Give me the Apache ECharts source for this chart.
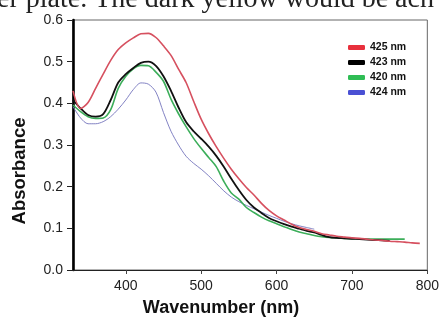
<!DOCTYPE html>
<html>
<head>
<meta charset="utf-8">
<script src="https://cdn.jsdelivr.net/npm/echarts@6/dist/echarts.min.js"></script>
<style>
html,body{margin:0;padding:0;background:#fff;}
#chart{width:442px;height:320px;}
</style>
</head>
<body>
<div id="chart"></div>
<script>
var wavelengths = [330,340,350,360,370,380,390,400,410,420,430,440,450,460,470,480,490,500,510,520,530,540,550,560,570,580,590,600,610,620,630,640,650,660,670,680,690,700,710,720,730,740,750,760,770,780,790];
var xTicks = [400,500,600,700,800];
var seriesNames = ['425 nm','423 nm','420 nm','424 nm'];
var red425 = [0.430,0.388,0.402,0.436,0.470,0.503,0.529,0.545,0.557,0.567,0.568,0.558,0.538,0.515,0.482,0.450,0.405,0.362,0.327,0.296,0.268,0.242,0.219,0.198,0.180,0.160,0.143,0.130,0.120,0.110,0.102,0.097,0.093,0.087,0.084,0.081,0.079,0.077,0.076,0.074,0.072,0.071,0.069,0.068,0.067,0.065,0.064];
var black423 = [0.408,0.388,0.372,0.368,0.374,0.408,0.450,0.470,0.485,0.497,0.500,0.490,0.465,0.430,0.390,0.355,0.333,0.315,0.296,0.274,0.248,0.219,0.192,0.168,0.150,0.137,0.125,0.117,0.110,0.104,0.099,0.094,0.090,0.084,0.079,0.077,0.076,0.075,0.074,0.073,0.072,0.071,0.070,null,null,null,null];
var green420 = [0.396,0.380,0.368,0.364,0.365,0.385,0.436,0.465,0.483,0.491,0.490,0.475,0.453,0.410,0.375,0.344,0.316,0.292,0.270,0.248,0.213,0.185,0.170,0.150,0.138,0.127,0.118,0.111,0.104,0.097,0.091,0.087,0.083,0.080,0.078,0.077,0.076,0.075,0.075,0.074,0.074,0.074,0.074,0.074,0.074,null,null];
var blue424 = [0.392,0.365,0.351,0.351,0.356,0.368,0.386,0.408,0.433,0.449,0.446,0.427,0.378,0.333,0.300,0.273,0.256,0.242,0.226,0.208,0.190,0.175,0.164,0.155,0.147,0.139,0.131,0.124,0.117,0.111,0.106,0.102,0.098,null,null,null,null,null,null,null,null,null,null,null,null,null,null];
var lineColors = ['#d6505f','#111111','#3cae5a','#7474bc'];
var legendColors = ['#e8303c','#000000','#2fbd55','#4a50d4'];
var lineWidths = [1.6,1.8,1.6,0.9];

function pairs(vals){
  return wavelengths.map(function(w,i){ return [w, vals[i]]; });
}
var allVals = [red425, black423, green420, blue424];

var chart = echarts.init(document.getElementById('chart'), null, {renderer:'canvas'});
var option = {
  animation: false,
  backgroundColor: '#fff',
  grid: {left: 73, right: 14, top: 20, bottom: 50, show: true, borderColor: '#666', borderWidth: 1},
  legend: {
    orient: 'vertical',
    left: 343, top: 37,
    itemWidth: 17, itemHeight: 5,
    itemGap: 4,
    icon: 'roundRect',
    textStyle: {fontFamily: 'Liberation Sans, Arial', fontWeight: 'bold', fontSize: 10.5, color: '#111'},
    data: seriesNames.map(function(n,i){ return {name: n, itemStyle: {color: legendColors[i]}}; })
  },
  xAxis: {
    type: 'value', min: 330, max: 800,
    splitLine: {show: false},
    axisLine: {onZero: false, lineStyle: {color: '#222', width: 1.2}},
    axisTick: {customValues: xTicks, length: 4, lineStyle: {color: '#444'}},
    axisLabel: {customValues: xTicks, fontFamily: 'Liberation Sans, Arial', fontSize: 14, color: '#222', margin: 9}
  },
  yAxis: {
    type: 'value', min: 0, max: 0.6, interval: 0.1,
    splitLine: {show: false},
    axisLine: {show: true, onZero: false, lineStyle: {color: '#000', width: 2.6}},
    axisTick: {show: true, length: 6, lineStyle: {color: '#222', width: 1}},
    axisLabel: {fontFamily: 'Liberation Sans, Arial', fontSize: 14, color: '#222', margin: 10,
      formatter: function(v){ return v.toFixed(1); }}
  },
  graphic: [
    {type: 'text', left: 'center', top: 299, style: {text: 'Wavenumber (nm)', fontFamily: 'Liberation Sans, Arial', fontWeight: 'bold', fontSize: 18, fill: '#111'}},
    {type: 'text', x: 20, y: 171, rotation: Math.PI/2, style: {text: 'Absorbance', fontFamily: 'Liberation Sans, Arial', fontWeight: 'bold', fontSize: 18.5, fill: '#111', align: 'center', verticalAlign: 'middle'}},
    {type: 'text', x: -3, y: 14, style: {text: 'er plate. The dark yellow would be ach', fontFamily: 'Liberation Serif, Times New Roman', fontSize: 28, fill: '#222', verticalAlign: 'bottom'}}
  ],
  series: seriesNames.map(function(n,i){
    return {
      name: n, type: 'line', data: pairs(allVals[i]),
      showSymbol: false, smooth: 0.3, connectNulls: false,
      color: lineColors[i],
      lineStyle: {color: lineColors[i], width: lineWidths[i]},
      z: 10 - i
    };
  })
};
chart.setOption(option);
</script>
</body>
</html>
